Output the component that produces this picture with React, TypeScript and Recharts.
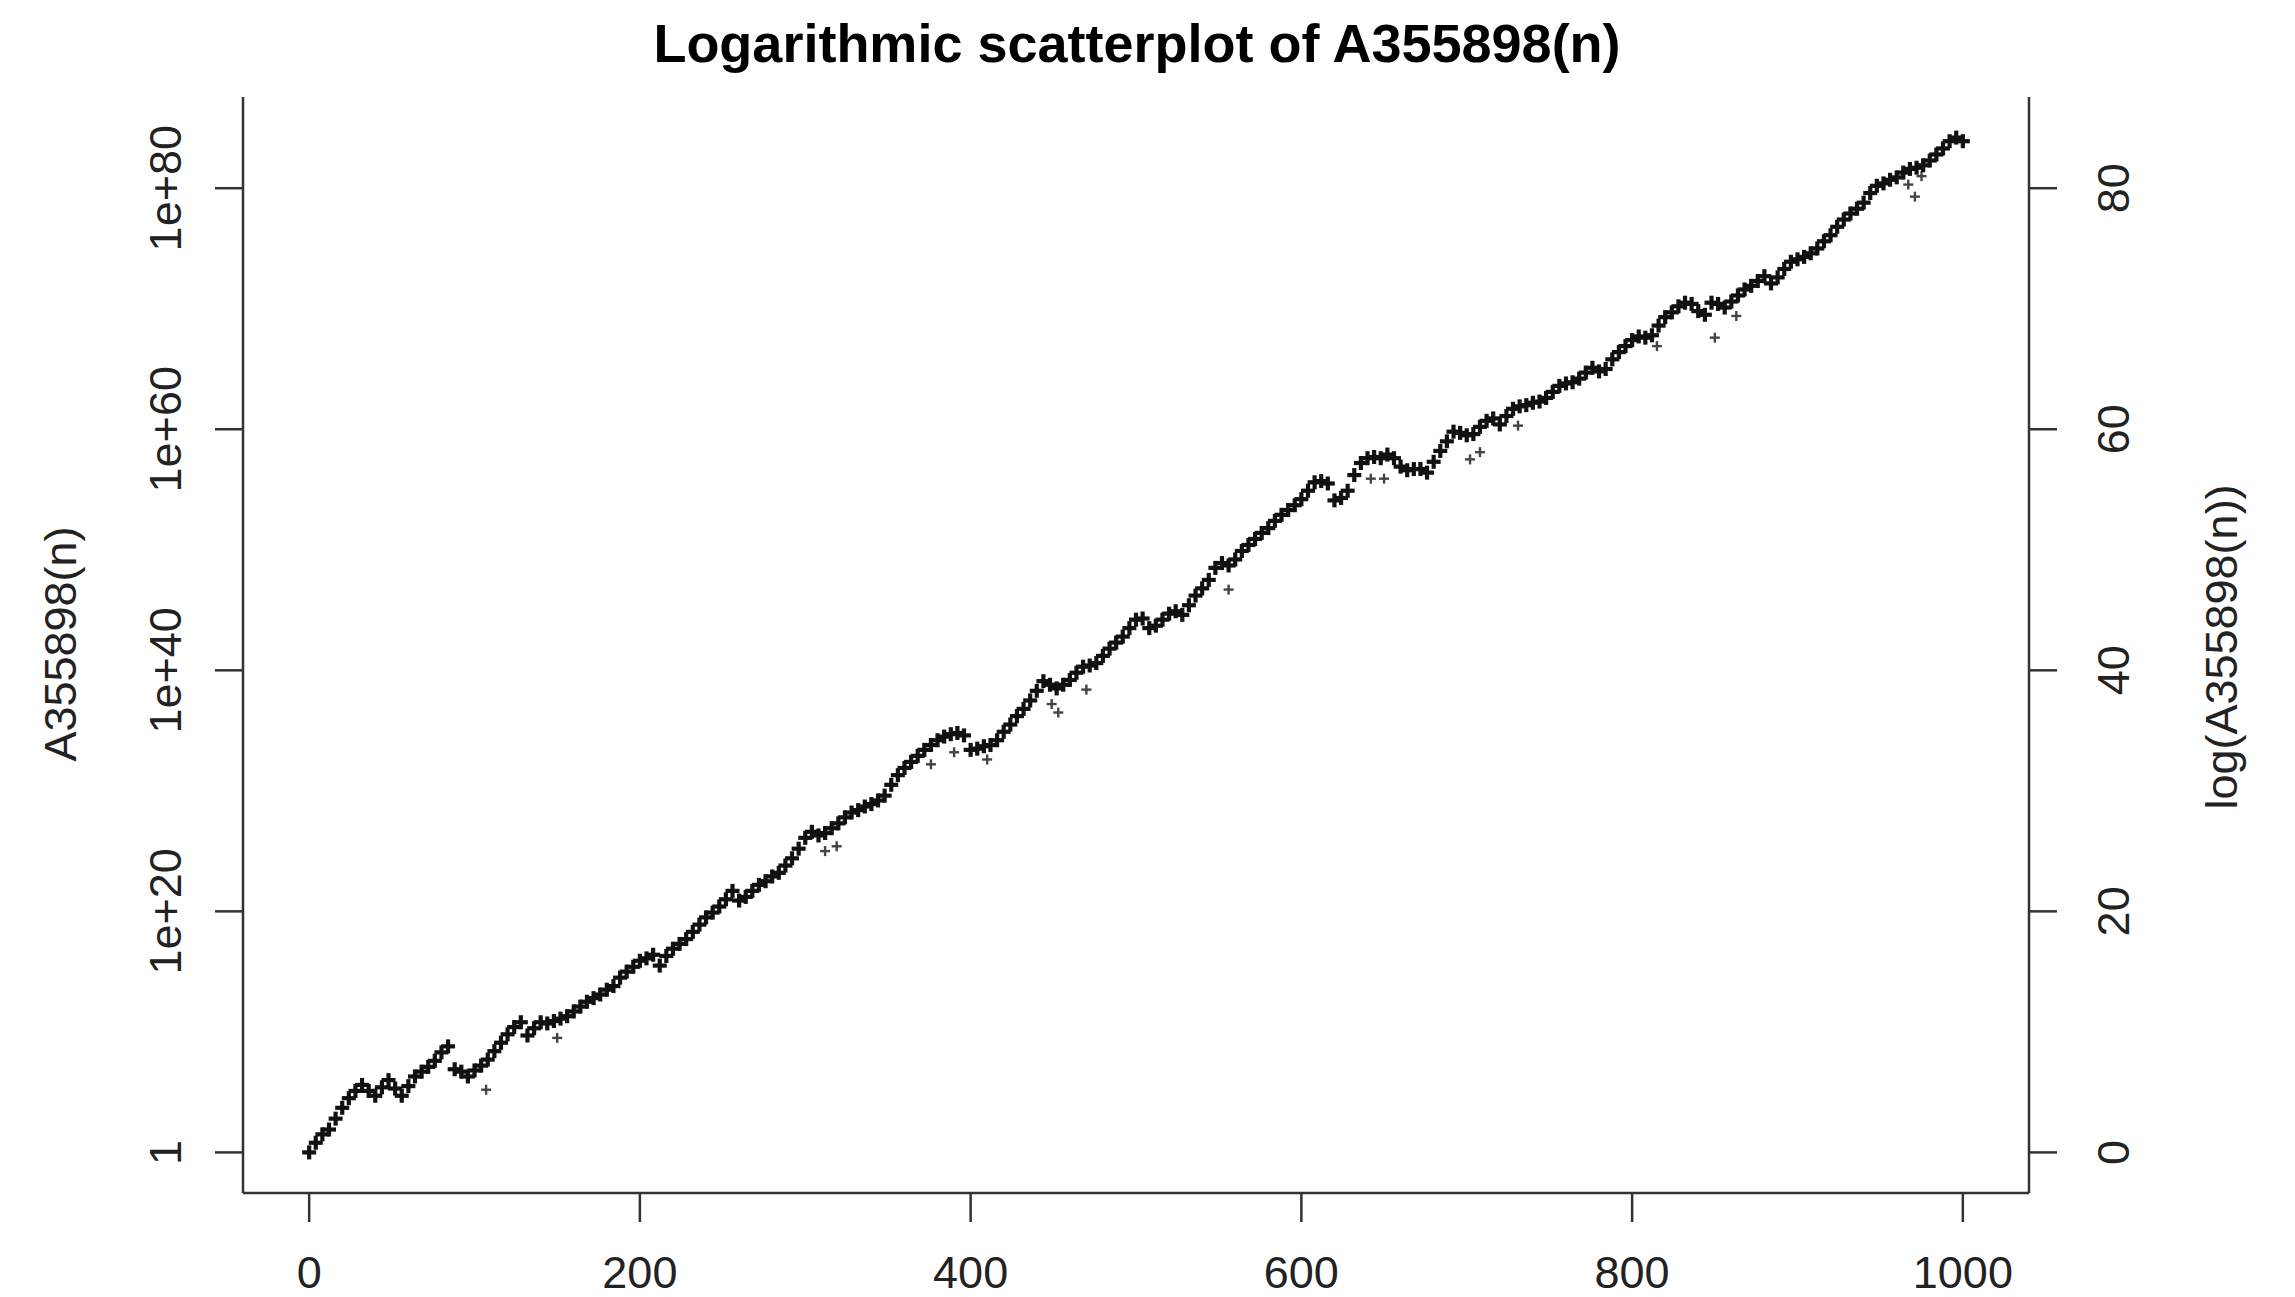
import React from 'react';
import { ScatterChart, Scatter, XAxis, YAxis } from 'recharts';

// n values (index of the sequence) sampled along the plotted curve
const nValues = [
  0, 4, 8, 12, 16, 20, 24, 28, 32, 36, 40, 44, 48, 52, 56, 60, 64, 68, 72, 76, 80, 84, 88, 92, 96,
  100, 104, 108, 112, 116, 120, 124, 128, 132, 136, 140, 144, 148, 152, 156, 160, 164, 168, 172, 176, 180, 184, 188, 192, 196,
  200, 204, 208, 212, 216, 220, 224, 228, 232, 236, 240, 244, 248, 252, 256, 260, 264, 268, 272, 276, 280, 284, 288, 292, 296,
  300, 304, 308, 312, 316, 320, 324, 328, 332, 336, 340, 344, 348, 352, 356, 360, 364, 368, 372, 376, 380, 384, 388, 392, 396,
  400, 404, 408, 412, 416, 420, 424, 428, 432, 436, 440, 444, 448, 452, 456, 460, 464, 468, 472, 476, 480, 484, 488, 492, 496,
  500, 504, 508, 512, 516, 520, 524, 528, 532, 536, 540, 544, 548, 552, 556, 560, 564, 568, 572, 576, 580, 584, 588, 592, 596,
  600, 604, 608, 612, 616, 620, 624, 628, 632, 636, 640, 644, 648, 652, 656, 660, 664, 668, 672, 676, 680, 684, 688, 692, 696,
  700, 704, 708, 712, 716, 720, 724, 728, 732, 736, 740, 744, 748, 752, 756, 760, 764, 768, 772, 776, 780, 784, 788, 792, 796,
  800, 804, 808, 812, 816, 820, 824, 828, 832, 836, 840, 844, 848, 852, 856, 860, 864, 868, 872, 876, 880, 884, 888, 892, 896,
  900, 904, 908, 912, 916, 920, 924, 928, 932, 936, 940, 944, 948, 952, 956, 960, 964, 968, 972, 976, 980, 984, 988, 992, 996,
  1000,
];

// log10(A355898(n))
const logValues = [
  0.0, 0.8, 1.5, 1.9, 2.8, 3.7, 4.5, 5.1, 5.6, 5.1, 4.7, 5.4, 6.0, 5.3, 4.7, 5.5, 6.3, 6.7, 7.1, 7.6, 8.3, 8.8, 6.9, 6.7, 6.3,
  6.8, 7.2, 7.7, 8.4, 9.1, 9.8, 10.4, 10.8, 9.7, 10.3, 10.8, 10.7, 10.9, 11.1, 11.3, 11.7, 12.1, 12.5, 12.8, 13.1, 13.5, 13.8, 14.5, 15.0, 15.4,
  15.9, 16.1, 16.4, 15.5, 16.3, 16.9, 17.3, 17.7, 18.3, 18.9, 19.5, 19.9, 20.4, 21.0, 21.7, 20.9, 21.2, 21.7, 22.2, 22.5, 22.9, 23.2, 23.8, 24.4, 25.2,
  26.1, 26.6, 26.3, 26.5, 26.9, 27.3, 27.8, 28.2, 28.4, 28.7, 28.9, 29.2, 29.6, 30.5, 31.3, 31.9, 32.4, 32.9, 33.4, 33.8, 34.2, 34.5, 34.7, 34.8, 34.6,
  33.4, 33.5, 33.7, 33.8, 34.2, 34.9, 35.5, 36.2, 36.8, 37.5, 38.3, 39.1, 38.8, 38.5, 38.8, 39.2, 39.8, 40.3, 40.4, 40.6, 41.2, 41.8, 42.3, 42.8, 43.5,
  44.2, 44.3, 43.5, 43.7, 44.2, 44.7, 44.9, 44.6, 45.4, 46.2, 46.8, 47.5, 48.5, 48.9, 48.7, 49.2, 49.9, 50.4, 50.9, 51.4, 51.8, 52.4, 52.9, 53.3, 53.7,
  54.2, 54.9, 55.6, 55.7, 55.5, 54.1, 54.3, 54.9, 56.2, 57.2, 57.6, 57.7, 57.6, 57.9, 57.6, 56.9, 56.6, 56.7, 56.7, 56.4, 57.3, 58.2, 59.0, 59.8, 59.7,
  59.5, 59.6, 60.2, 60.7, 60.9, 60.4, 61.1, 61.7, 61.9, 62.0, 62.2, 62.3, 62.6, 63.1, 63.6, 63.8, 63.9, 64.2, 64.7, 65.1, 64.8, 65.0, 65.8, 66.4, 66.9,
  67.4, 67.7, 67.6, 67.8, 68.6, 69.3, 69.7, 70.2, 70.5, 70.4, 69.8, 69.5, 70.5, 70.4, 70.1, 70.6, 71.1, 71.6, 71.9, 72.3, 72.7, 72.1, 72.6, 73.3, 73.9,
  74.1, 74.3, 74.6, 75.0, 75.6, 76.1, 76.8, 77.4, 77.9, 78.3, 78.8, 79.6, 80.2, 80.4, 80.7, 80.9, 81.3, 81.6, 81.7, 81.9, 82.3, 82.8, 83.3, 83.9, 84.2,
  83.9,
];

// isolated points lying below the main band
const outlierN = [107, 150, 312, 319, 376, 390, 410, 449, 453, 470, 556, 642, 650, 702, 708, 731, 815, 850, 863, 967, 971, 975];
const outlierLog = [5.2, 9.5, 25.0, 25.4, 32.2, 33.2, 32.6, 37.2, 36.5, 38.4, 46.7, 55.9, 55.9, 57.5, 58.1, 60.3, 66.9, 67.6, 69.4, 80.3, 79.3, 81.0];

const xTicks = [0, 200, 400, 600, 800, 1000];
const yTicks = [0, 20, 40, 60, 80];
const leftTickLabels = ['1', '1e+20', '1e+40', '1e+60', '1e+80'];
const rightTickLabels = ['0', '20', '40', '60', '80'];

const TITLE = 'Logarithmic scatterplot of A355898(n)';
const LEFT_TITLE = 'A355898(n)';
const RIGHT_TITLE = 'log(A355898(n))';

const mainPoints = nValues.map((n, i) => ({ n, v: logValues[i] }));
const outlierPoints = outlierN.map((n, i) => ({ n, v: outlierLog[i] }));

// R-style 4% axis extension
const allN = nValues.concat(outlierN);
const allV = logValues.concat(outlierLog);
const nMin = Math.min(...allN), nMax = Math.max(...allN);
const vMin = Math.min(...allV), vMax = Math.max(...allV);
const xDomain = [nMin - 0.04 * (nMax - nMin), nMax + 0.04 * (nMax - nMin)];
const yDomain = [vMin - 0.04 * (vMax - vMin), vMax + 0.04 * (vMax - vMin)];

const FONT = '"Liberation Sans", Arimo, Arial, Helvetica, sans-serif';
const AX = '#333';
const W = 2279;
const H = 1289;

const BigPlus = (props: any) => {
  const { cx, cy } = props;
  if (cx == null || cy == null) return null;
  const s = 7;
  return (
    <g>
      <line x1={cx - s} y1={cy} x2={cx + s} y2={cy} stroke="#111" strokeWidth={4.2} />
      <line x1={cx} y1={cy - s} x2={cx} y2={cy + s} stroke="#111" strokeWidth={4.2} />
    </g>
  );
};

const SmallPlus = (props: any) => {
  const { cx, cy } = props;
  if (cx == null || cy == null) return null;
  const s = 5;
  return (
    <g>
      <line x1={cx - s} y1={cy} x2={cx + s} y2={cy} stroke="#444" strokeWidth={2.4} />
      <line x1={cx} y1={cy - s} x2={cx} y2={cy + s} stroke="#444" strokeWidth={2.4} />
    </g>
  );
};

const XTick = (props: any) => {
  const { x, y, payload } = props;
  return (
    <text x={x} y={y + 66} textAnchor="middle" fontSize={45} fontFamily={FONT} fill="#222">
      {payload.value}
    </text>
  );
};

const LeftTick = (props: any) => {
  const { x, y, payload } = props;
  const idx = yTicks.indexOf(payload.value);
  return (
    <text
      transform={`translate(${x - 34},${y}) rotate(-90)`}
      textAnchor="middle"
      fontSize={45}
      fontFamily={FONT}
      fill="#222"
    >
      {leftTickLabels[idx]}
    </text>
  );
};

const RightTick = (props: any) => {
  const { x, y, payload } = props;
  const idx = yTicks.indexOf(payload.value);
  return (
    <text
      transform={`translate(${x + 72},${y}) rotate(-90)`}
      textAnchor="middle"
      fontSize={45}
      fontFamily={FONT}
      fill="#222"
    >
      {rightTickLabels[idx]}
    </text>
  );
};

export default function App() {
  const axisLine = { stroke: AX, strokeWidth: 2.5 };
  const tickLine = { stroke: AX, strokeWidth: 2.5 };
  return (
    <div style={{ position: 'relative', width: W, height: H, background: '#fff' }}>
      <ScatterChart width={W} height={H} margin={{ top: 89, right: 0, bottom: 0, left: 0 }}>
        <XAxis
          xAxisId="bottom"
          dataKey="n"
          type="number"
          domain={xDomain}
          ticks={xTicks}
          height={104}
          tickSize={29}
          tickMargin={0}
          axisLine={axisLine}
          tickLine={tickLine}
          tick={<XTick />}
          allowDataOverflow
        />
        <XAxis
          xAxisId="top"
          orientation="top"
          type="number"
          domain={xDomain}
          height={0}
          tick={false}
          tickLine={false}
          axisLine={axisLine}
          allowDataOverflow
        />
        <YAxis
          yAxisId="left"
          dataKey="v"
          type="number"
          domain={yDomain}
          ticks={yTicks}
          width={235}
          tickSize={28}
          tickMargin={0}
          axisLine={axisLine}
          tickLine={tickLine}
          tick={<LeftTick />}
          allowDataOverflow
        />
        <YAxis
          yAxisId="right"
          orientation="right"
          type="number"
          domain={yDomain}
          ticks={yTicks}
          width={258}
          tickSize={28}
          tickMargin={0}
          axisLine={axisLine}
          tickLine={tickLine}
          tick={<RightTick />}
          allowDataOverflow
        />
        <Scatter
          data={outlierPoints}
          xAxisId="bottom"
          yAxisId="left"
          dataKey="v"
          shape={<SmallPlus />}
          isAnimationActive={false}
        />
        <Scatter
          data={mainPoints}
          xAxisId="bottom"
          yAxisId="left"
          dataKey="v"
          shape={<BigPlus />}
          isAnimationActive={false}
        />
      </ScatterChart>
      <svg
        width={W}
        height={H}
        style={{ position: 'absolute', left: 0, top: 0, pointerEvents: 'none' }}
      >
        <text x={1129} y={54} textAnchor="middle" fontSize={54} fontWeight="bold" fontFamily={FONT} fill="#000">
          {TITLE}
        </text>
        <text
          transform="translate(68,636) rotate(-90)"
          textAnchor="middle"
          fontSize={45}
          fontFamily={FONT}
          fill="#222"
        >
          {LEFT_TITLE}
        </text>
        <text
          transform="translate(2229,639) rotate(-90)"
          textAnchor="middle"
          fontSize={45}
          fontFamily={FONT}
          fill="#222"
        >
          {RIGHT_TITLE}
        </text>
      </svg>
    </div>
  );
}
